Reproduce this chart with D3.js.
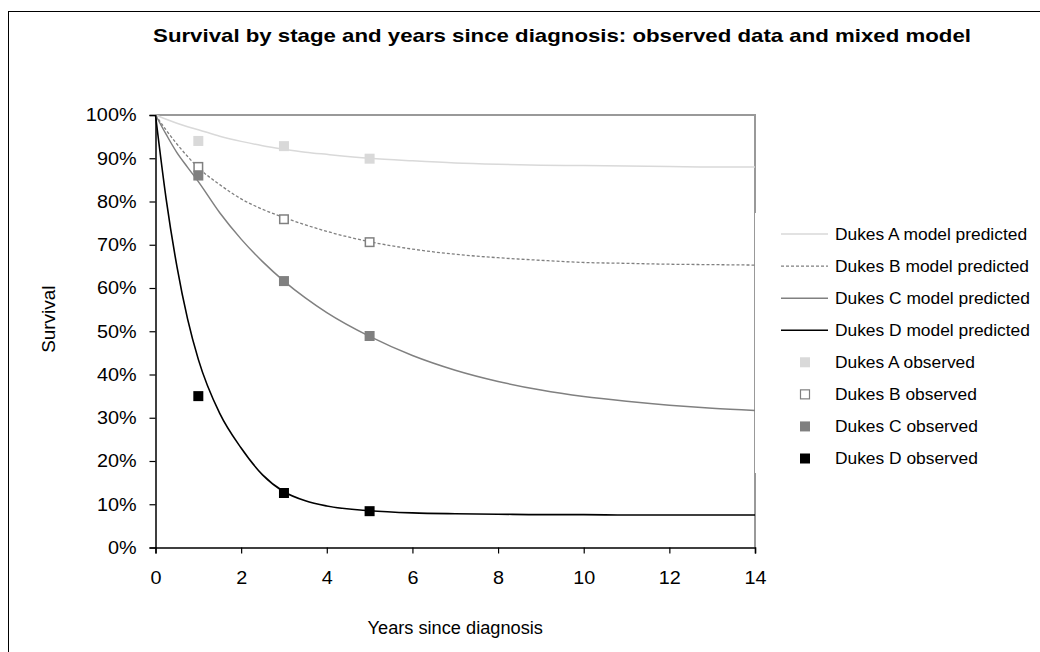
<!DOCTYPE html>
<html>
<head>
<meta charset="utf-8">
<script src="https://cdn.jsdelivr.net/npm/d3@7"></script>
<style>
  html, body { margin: 0; padding: 0; background: #fff; }
  svg { display: block; font-family: "Liberation Sans", Arial, sans-serif; }
</style>
</head>
<body>
<svg id="chart" width="1040" height="652"></svg>
<script>
// Model-predicted survival (%) by Dukes stage, sampled along the years axis
const modelYears = [0, 0.25, 0.5, 0.75, 1, 1.5, 2, 2.5, 3, 3.5, 4, 5, 6, 7, 8, 9, 10, 11, 12, 13, 14];
const modelA = [100, 99.0, 98.1, 97.3, 96.6, 95.1, 93.9, 92.9, 92.1, 91.4, 90.9, 90.0, 89.4, 88.9, 88.6, 88.4, 88.3, 88.2, 88.1, 88.0, 88.0];
const modelB = [100, 96.5, 93.3, 90.4, 87.8, 83.9, 80.6, 78.2, 76.3, 74.6, 73.1, 70.7, 69.0, 67.8, 67.0, 66.4, 65.9, 65.7, 65.5, 65.4, 65.3];
const modelC = [100, 95.5, 91.3, 87.9, 84.6, 77.4, 71.3, 66.1, 61.6, 57.7, 54.3, 48.8, 44.4, 41.0, 38.4, 36.4, 34.9, 33.8, 32.9, 32.2, 31.7];
const modelD = [100, 80.5, 65.0, 52.8, 43.5, 31.0, 23.0, 16.8, 12.9, 10.8, 9.6, 8.5, 8.0, 7.8, 7.7, 7.6, 7.6, 7.5, 7.5, 7.5, 7.5];

// Observed survival (%) at 1, 3 and 5 years
const observedYears = [1, 3, 5];
const observedA = [94.0, 92.8, 89.9];
const observedB = [88.0, 75.9, 70.6];
const observedC = [86.0, 61.6, 48.9];
const observedD = [35.0, 12.6, 8.4];

const stages = ["A", "B", "C", "D"];
const xTicks = [0, 2, 4, 6, 8, 10, 12, 14];
const yTicks = [0, 10, 20, 30, 40, 50, 60, 70, 80, 90, 100];

const chartTitle = "Survival by stage and years since diagnosis: observed data and mixed model";
const xTitle = "Years since diagnosis";
const yTitle = "Survival";

const svg = d3.select("#chart");

// widen glyphs slightly, the way the chart's original text renders
function widen(sel, factor) {
  sel.each(function () {
    const w = this.getComputedTextLength();
    d3.select(this).attr("textLength", w * factor).attr("lengthAdjust", "spacingAndGlyphs");
  });
}

// outer chart frame
svg.append("rect")
  .attr("x", 8.5).attr("y", 11.5)
  .attr("width", 1100).attr("height", 700)
  .attr("fill", "#fff").attr("stroke", "#000").attr("stroke-width", 1);

const plot = { left: 155.5, right: 755, top: 115, bottom: 547.5 };

const x = d3.scaleLinear().domain([0, 14]).range([plot.left, plot.right]);
const y = d3.scaleLinear().domain([0, 100]).range([plot.bottom, plot.top]);

// plot area border (top and right)
svg.append("path")
  .attr("d", `M${plot.left},${plot.top}H${plot.right}V${plot.bottom}`)
  .attr("fill", "none").attr("stroke", "#999").attr("stroke-width", 2);

// title
svg.append("text")
  .attr("x", 562).attr("y", 42)
  .attr("text-anchor", "middle")
  .attr("font-size", 19).attr("font-weight", "bold")
  .attr("fill", "#000")
  .text(chartTitle)
  .call(widen, 1.17);

// axes
const yAxis = d3.axisLeft(y)
  .tickValues(yTicks)
  .tickFormat(d => d + "%")
  .tickSize(6).tickPadding(13);
const gy = svg.append("g").attr("transform", `translate(${plot.left},0)`).call(yAxis);

const xAxis = d3.axisBottom(x)
  .tickValues(xTicks)
  .tickFormat(d3.format("d"))
  .tickSize(6).tickPadding(18);
const gx = svg.append("g").attr("transform", `translate(0,${plot.bottom})`).call(xAxis);

[gx, gy].forEach(g => {
  g.select(".domain").attr("stroke", "#000").attr("stroke-width", 1.5);
  g.selectAll(".tick line").attr("stroke", "#000").attr("stroke-width", 1.2);
  g.selectAll(".tick text").attr("font-size", 18).attr("fill", "#000")
    .attr("font-family", "\"Liberation Sans\", Arial, sans-serif")
    .call(widen, 1.1);
});

// axis titles
svg.append("text")
  .attr("x", plot.left + (plot.right - plot.left) / 2).attr("y", 634)
  .attr("text-anchor", "middle").attr("font-size", 17.5).attr("fill", "#000")
  .text(xTitle)
  .call(widen, 1.04);
svg.append("text")
  .attr("transform", `translate(55,${(plot.top + plot.bottom) / 2 - 12}) rotate(-90)`)
  .attr("text-anchor", "middle").attr("font-size", 17.5).attr("fill", "#000")
  .text(yTitle)
  .call(widen, 1.08);

// series styles
const lineStyle = {
  A: { stroke: "#d9d9d9", width: 1.5, dash: null },
  B: { stroke: "#808080", width: 1.3, dash: "3,2" },
  C: { stroke: "#808080", width: 1.5, dash: null },
  D: { stroke: "#000000", width: 1.6, dash: null }
};
const markStyle = {
  A: { fill: "#d9d9d9", stroke: "none" },
  B: { fill: "#ffffff", stroke: "#808080" },
  C: { fill: "#808080", stroke: "none" },
  D: { fill: "#000000", stroke: "none" }
};
const modelSeries = { A: modelA, B: modelB, C: modelC, D: modelD };
const observedSeries = { A: observedA, B: observedB, C: observedC, D: observedD };

const line = d3.line()
  .x(d => x(d[0])).y(d => y(d[1]))
  .curve(d3.curveMonotoneX);

const curves = svg.append("g");
stages.forEach(s => {
  const st = lineStyle[s];
  curves.append("path")
    .datum(modelYears.map((t, i) => [t, modelSeries[s][i]]))
    .attr("d", line)
    .attr("fill", "none")
    .attr("stroke", st.stroke)
    .attr("stroke-width", st.width)
    .attr("stroke-dasharray", st.dash);
});

const sq = 10;
const marks = svg.append("g");
stages.forEach(s => {
  const ms = markStyle[s];
  const outlined = ms.stroke !== "none";
  const size = outlined ? sq - 1.5 : sq;
  marks.selectAll(null)
    .data(observedYears.map((t, i) => [t, observedSeries[s][i]]))
    .join("rect")
    .attr("x", d => x(d[0]) - size / 2)
    .attr("y", d => y(d[1]) - size / 2)
    .attr("width", size).attr("height", size)
    .attr("fill", ms.fill)
    .attr("stroke", ms.stroke)
    .attr("stroke-width", outlined ? 1.5 : 0);
});

// legend (white box overlapping the right edge of the plot border)
const legend = svg.append("g");
legend.append("rect")
  .attr("x", 755).attr("y", 213).attr("width", 280).attr("height", 260)
  .attr("fill", "#fff");

const legendRows = [];
stages.forEach(s => legendRows.push({ kind: "line", s, label: `Dukes ${s} model predicted` }));
stages.forEach(s => legendRows.push({ kind: "mark", s, label: `Dukes ${s} observed` }));

const rowY = d3.scaleLinear().domain([0, 7]).range([234, 458.5]);
legendRows.forEach((r, i) => {
  const cy = rowY(i);
  if (r.kind === "line") {
    const st = lineStyle[r.s];
    legend.append("line")
      .attr("x1", 781).attr("x2", 828).attr("y1", cy).attr("y2", cy)
      .attr("stroke", st.stroke).attr("stroke-width", st.width)
      .attr("stroke-dasharray", st.dash);
  } else {
    const ms = markStyle[r.s];
    const outlined = ms.stroke !== "none";
    const size = outlined ? 9 : 10;
    legend.append("rect")
      .attr("x", 805 - size / 2).attr("y", cy - size / 2)
      .attr("width", size).attr("height", size)
      .attr("fill", ms.fill).attr("stroke", ms.stroke)
      .attr("stroke-width", outlined ? 1.2 : 0);
  }
  legend.append("text")
    .attr("x", 835).attr("y", cy + 5.5)
    .attr("font-size", 16).attr("fill", "#000")
    .text(r.label)
    .call(widen, 1.085);
});
</script>
</body>
</html>
